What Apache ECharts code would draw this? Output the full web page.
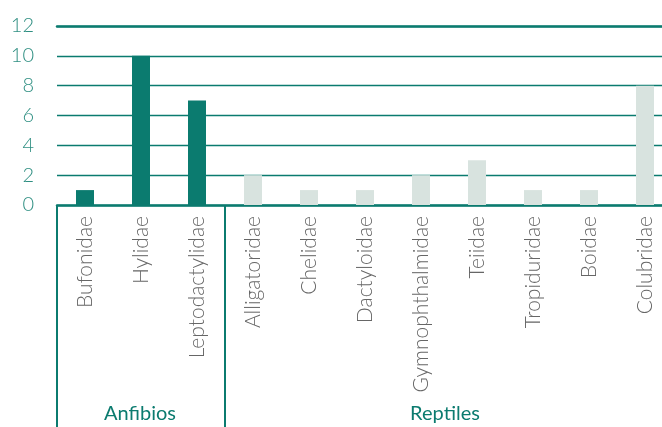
<!DOCTYPE html>
<html>
<head>
<meta charset="utf-8">
<script src="https://cdn.jsdelivr.net/npm/echarts@6/dist/echarts.min.js"></script>
<style>
html,body{margin:0;padding:0;background:#fff;}
#chart{width:662px;height:427px;}
</style>
</head>
<body>
<div id="chart"></div>
<script>
const categories = ["Bufonidae","Hylidae","Leptodactylidae","Alligatoridae","Chelidae","Dactyloidae","Gymnophthalmidae","Teiidae","Tropiduridae","Boidae","Colubridae"];
const counts = [1,10,7,2,1,1,2,3,1,1,8];
const groupOf = ["Anfibios","Anfibios","Anfibios","Reptiles","Reptiles","Reptiles","Reptiles","Reptiles","Reptiles","Reptiles","Reptiles"];
const groupNames = ["Anfibios","Reptiles"];
const groupColors = {"Anfibios":"#0b7b6f","Reptiles":"#d8e3df"};
const yTicks = [0,2,4,6,8,10,12];

const TEAL = "#0b7b6f";
const chart = echarts.init(document.getElementById('chart'), null, {renderer:'canvas'});
chart.setOption({
  animation:false,
  grid:{left:57,right:-11,top:26,bottom:222,containLabel:false,outerBoundsMode:'none'},
  xAxis:[{
    type:'category',
    data:categories,
    axisLine:{show:true,lineStyle:{color:TEAL,width:2.5}},
    axisTick:{show:false},
    axisLabel:{rotate:90,margin:11,interval:0,color:'#666',fontFamily:'Lato',fontWeight:300,fontSize:21}
  },{
    type:'category',
    position:'top',
    data:categories,
    axisLine:{show:true,lineStyle:{color:TEAL,width:2.5}},
    axisTick:{show:false},
    axisLabel:{show:false}
  }],
  yAxis:{
    type:'value',
    min:yTicks[0],max:yTicks[yTicks.length-1],interval:2,
    axisLine:{show:false},axisTick:{show:false},
    splitLine:{show:true,lineStyle:{color:TEAL,width:1.3}},
    axisLabel:{margin:23,color:'#2f8f82',fontFamily:'Lato',fontWeight:300,fontSize:20}
  },
  series:[{
    type:'bar',
    barWidth:18,
    data:counts.map((v,i)=>({value:v,itemStyle:{color:groupColors[groupOf[i]]}}))
  }]
});

// group separators and labels, positioned from the category axis scale
const px = c => chart.convertToPixel({xAxisIndex:0}, c);
const band = px(categories[1]) - px(categories[0]);
const baseY = chart.convertToPixel({yAxisIndex:0}, 0);
const graphics = [];
groupNames.forEach(g => {
  const idx = groupOf.map((x,i)=>x===g?i:-1).filter(i=>i>=0);
  const first = idx[0], last = idx[idx.length-1];
  const left = px(categories[first]) - band/2;
  const right = px(categories[last]) + band/2;
  graphics.push({type:'line',shape:{x1:left,y1:baseY,x2:left,y2:427},style:{stroke:TEAL,lineWidth:2},z:10});
  graphics.push({type:'text',x:(left+right)/2 - (g==="Reptiles"?4:1),y:414,
    style:{text:g,fill:TEAL,font:'400 20px Lato',textAlign:'center',textVerticalAlign:'middle'},z:10});
});
chart.setOption({graphic:graphics});
</script>
</body>
</html>
